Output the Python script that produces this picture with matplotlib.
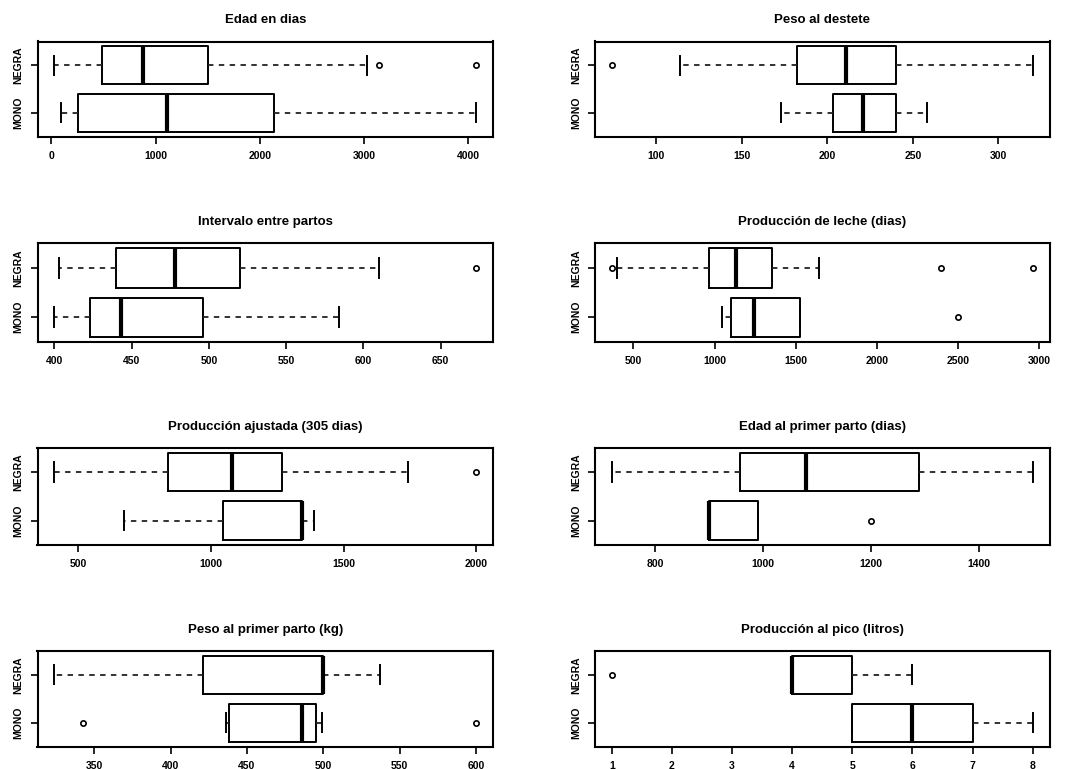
import matplotlib
matplotlib.use('Agg')
import matplotlib.pyplot as plt

plt.rcParams['font.family'] = ['Liberation Sans', 'DejaVu Sans']

titulos = ['Edad en dias', 'Peso al destete', 'Intervalo entre partos',
           'Producción de leche (dias)', 'Producción ajustada (305 dias)',
           'Edad al primer parto (dias)', 'Peso al primer parto (kg)',
           'Producción al pico (litros)']
grupos = ['MONO', 'NEGRA']
marcas_x = [[0, 1000, 2000, 3000, 4000],
            [100, 150, 200, 250, 300],
            [400, 450, 500, 550, 600, 650],
            [500, 1000, 1500, 2000, 2500, 3000],
            [500, 1000, 1500, 2000],
            [800, 1000, 1200, 1400],
            [350, 400, 450, 500, 550, 600],
            [1, 2, 3, 4, 5, 6, 7, 8]]

# NEGRA
negra_min = [30, 114, 403, 397, 410, 720, 324, 4]
negra_q1 = [486, 182, 440, 965, 838, 958, 421, 4]
negra_med = [876, 211, 478, 1129, 1081, 1080, 500, 4]
negra_q3 = [1500, 240, 520, 1354, 1270, 1290, 500, 5]
negra_max = [3030, 320, 610, 1641, 1744, 1500, 537, 6]
negra_atipicos = [[3140, 4075], [74], [673], [367, 2395, 2959], [2000], [], [], [1]]

# MONO
mono_min = [90, 173, 400, 1047, 672, 900, 436, 5]
mono_q1 = [252, 203, 423, 1100, 1046, 900, 438, 5]
mono_med = [1110, 221, 443, 1242, 1343, 900, 486, 6]
mono_q3 = [2132, 240, 496, 1528, 1345, 990, 495, 7]
mono_max = [4075, 258, 584, 1528, 1387, 990, 499, 8]
mono_atipicos = [[], [], [], [2498], [], [1200], [343, 600], []]

W, H = 1072, 769
fig = plt.figure(figsize=(W / 100, H / 100), dpi=100)

# posiciones de los paneles en pixeles (izq, der) y (arriba, abajo)
columnas = [(37.5, 493), (595, 1049.5)]
filas = [(41.5, 136.7), (243.5, 341.7), (447.7, 545), (651, 746.7)]


def stats(mn, q1, med, q3, mx, fl, nombre):
    return dict(whislo=mn, q1=q1, med=med, q3=q3, whishi=mx, fliers=fl, label=nombre)


for i in range(8):
    x0, x1 = columnas[i % 2]
    y0, y1 = filas[i // 2]
    ax = fig.add_axes([x0 / W, 1 - y1 / H, (x1 - x0) / W, (y1 - y0) / H])

    datos = [stats(mono_min[i], mono_q1[i], mono_med[i], mono_q3[i], mono_max[i],
                   mono_atipicos[i], 'MONO'),
             stats(negra_min[i], negra_q1[i], negra_med[i], negra_q3[i], negra_max[i],
                   negra_atipicos[i], 'NEGRA')]
    ax.bxp(datos, positions=[1, 2], vert=False, widths=0.8, capwidths=0.4,
           boxprops=dict(color='black', linewidth=1.4),
           whiskerprops=dict(color='#222222', linewidth=1.3, linestyle=(0, (3, 3))),
           capprops=dict(color='black', linewidth=1.4),
           medianprops=dict(color='black', linewidth=3, solid_capstyle='butt'),
           flierprops=dict(marker='o', markersize=3.8, markerfacecolor='none',
                           markeredgecolor='black', markeredgewidth=1.2))

    valores = [mono_min[i], negra_min[i], mono_max[i], negra_max[i]] + \
        mono_atipicos[i] + negra_atipicos[i]
    lo, hi = min(valores), max(valores)
    extra = (hi - lo) * 0.04
    ax.set_xlim(lo - extra, hi + extra)
    ax.set_ylim(0.5, 2.5)

    ax.set_xticks(marcas_x[i])
    ax.set_xticklabels([str(v) for v in marcas_x[i]], fontsize=7.5, fontweight='bold')
    ax.set_yticks([1, 2])
    ax.set_yticklabels(grupos, rotation=90, fontsize=7.5, va='center', fontweight='bold')
    ax.tick_params(axis='both', direction='out', length=5, width=1.2, pad=5)
    for s in ax.spines.values():
        s.set_linewidth(1.5)
    ax.set_title(titulos[i], fontsize=9.5, fontweight='bold', pad=13)

fig.savefig('out.png', dpi=100)
